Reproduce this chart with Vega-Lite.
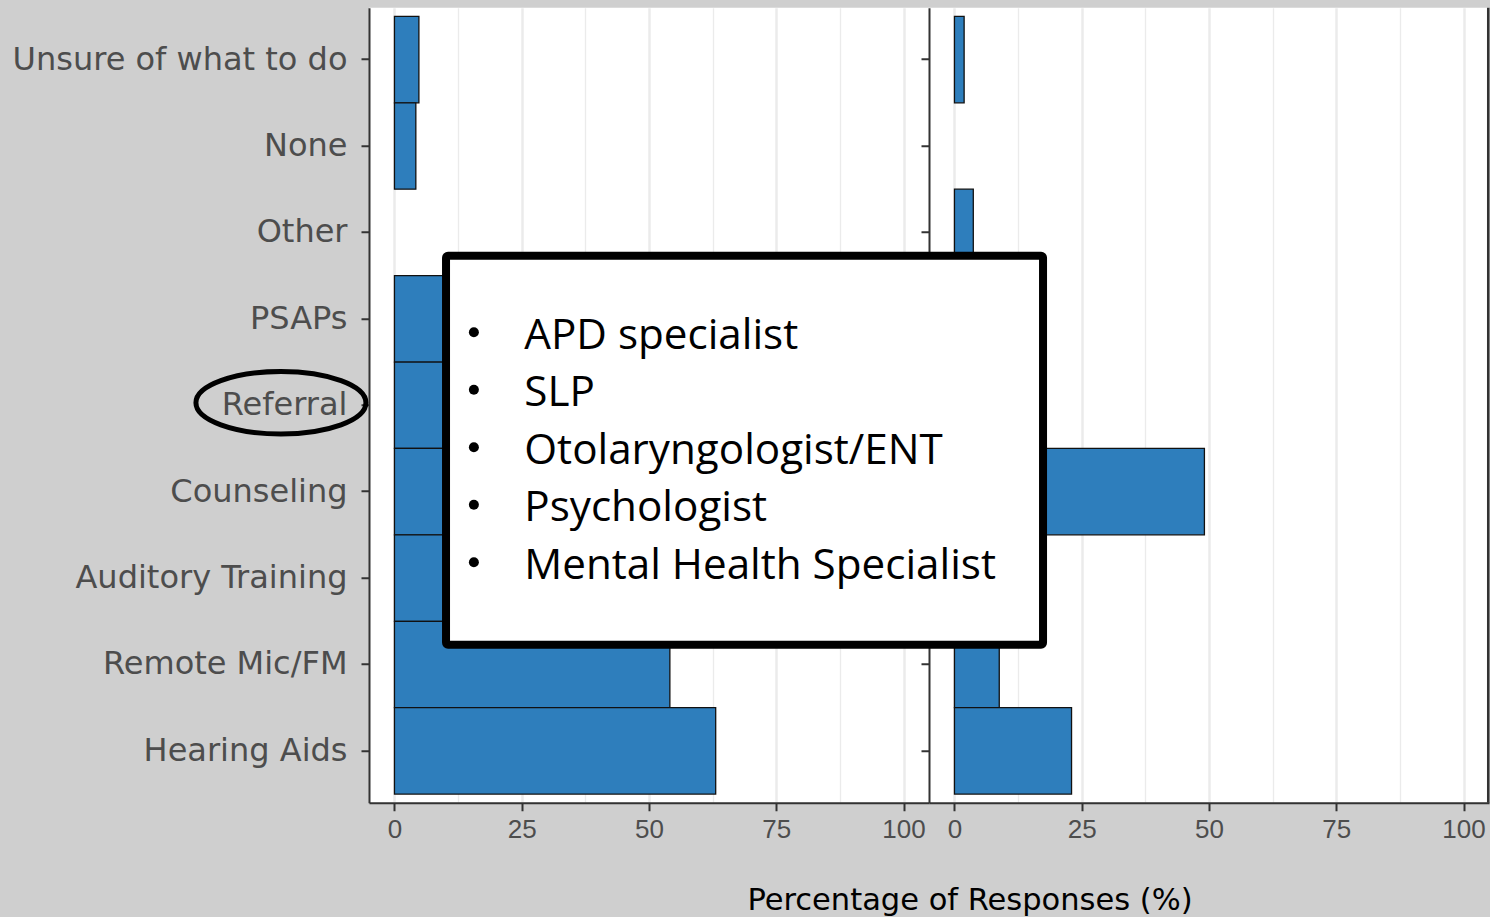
{
  "$schema": "https://vega.github.io/schema/vega-lite/v6.json",
  "background": "#CFCFCF",
  "padding": {"left": 12, "top": 5.75, "right": 0, "bottom": 0},
  "bounds": "flush",
  "spacing": 0,
  "config": {
    "view": {"fill": "white", "stroke": null},
    "axis": {
      "domainColor": "#333333",
      "domainWidth": 2,
      "tickColor": "#333333",
      "tickWidth": 2,
      "tickSize": 8,
      "labelColor": "#4D4D4D"
    }
  },
  "data": {
    "values": [
      {"group": "A", "category": "Unsure of what to do", "pct": 4.8},
      {"group": "A", "category": "None", "pct": 4.2},
      {"group": "A", "category": "Other", "pct": 0},
      {"group": "A", "category": "PSAPs", "pct": 20},
      {"group": "A", "category": "Referral", "pct": 60},
      {"group": "A", "category": "Counseling", "pct": 70},
      {"group": "A", "category": "Auditory Training", "pct": 35},
      {"group": "A", "category": "Remote Mic/FM", "pct": 54.1},
      {"group": "A", "category": "Hearing Aids", "pct": 63.1},
      {"group": "B", "category": "Unsure of what to do", "pct": 1.9},
      {"group": "B", "category": "None", "pct": 0},
      {"group": "B", "category": "Other", "pct": 3.7},
      {"group": "B", "category": "PSAPs", "pct": 8},
      {"group": "B", "category": "Referral", "pct": 12},
      {"group": "B", "category": "Counseling", "pct": 49.1},
      {"group": "B", "category": "Auditory Training", "pct": 6},
      {"group": "B", "category": "Remote Mic/FM", "pct": 8.8},
      {"group": "B", "category": "Hearing Aids", "pct": 23.0}
    ]
  },
  "hconcat": [
    {
      "width": 560,
      "height": 795,
      "layer": [
        {
          "transform": [{"filter": "datum.group === 'A'"}],
          "mark": {"type": "bar", "fill": "#2E7EBC", "stroke": "#111111", "strokeWidth": 1.3},
          "encoding": {
            "y": {
              "field": "category", "type": "nominal",
              "sort": ["Unsure of what to do", "None", "Other", "PSAPs", "Referral", "Counseling", "Auditory Training", "Remote Mic/FM", "Hearing Aids"],
              "scale": {"domain": ["Unsure of what to do", "None", "Other", "PSAPs", "Referral", "Counseling", "Auditory Training", "Remote Mic/FM", "Hearing Aids"], "paddingInner": 0, "paddingOuter": 0.1},
              "axis": {"title": null, "grid": false, "labelFont": "DejaVu Sans", "labelFontSize": 32, "labelPadding": 14, "labelLimit": 600}
            },
            "x": {
              "field": "pct", "type": "quantitative",
              "scale": {"domain": [-5, 105], "nice": false, "zero": false},
              "axis": {
                "values": [0, 12.5, 25, 37.5, 50, 62.5, 75, 87.5, 100],
                "labelExpr": "datum.value % 25 === 0 ? format(datum.value, 'd') : ''",
                "labelFlush": false, "labelOverlap": false,
                "grid": true, "gridColor": "#EBEBEB",
                "gridWidth": {"condition": {"test": "datum.value % 25 === 0", "value": 2.5}, "value": 1.3},
                "tickOpacity": {"condition": {"test": "datum.value % 25 !== 0", "value": 0}, "value": 1},
                "labelFont": "Liberation Sans", "labelFontSize": 26, "labelPadding": 6,
                "title": "Percentage of Responses (%)",
                "titleFont": "DejaVu Sans", "titleFontSize": 30.5, "titleFontWeight": "normal", "titleColor": "black",
                "titleX": 600.5, "titleY": 107, "titleAlign": "center", "titleBaseline": "alphabetic"
              }
            },
            "x2": {"datum": 0},
            "strokeOpacity": {"condition": {"test": "datum.pct <= 0", "value": 0}, "value": 1}
          }
        },
        {
          "data": {"values": [{"category": "Referral"}]},
          "mark": {"type": "point", "shape": "M -1 0 A 1 0.367 0 1 1 1 0 A 1 0.367 0 1 1 -1 0 Z", "size": 28900, "filled": false, "stroke": "black", "strokeWidth": 5, "opacity": 1, "clip": false, "yOffset": -2.5},
          "encoding": {
            "x": {"datum": -22.3, "type": "quantitative", "scale": {"domain": [-5, 105], "nice": false, "zero": false}},
            "y": {"field": "category", "type": "nominal", "scale": {"domain": ["Unsure of what to do", "None", "Other", "PSAPs", "Referral", "Counseling", "Auditory Training", "Remote Mic/FM", "Hearing Aids"], "paddingInner": 0, "paddingOuter": 0.1}}
          }
        }
      ]
    },
    {
      "width": 560,
      "height": 795,
      "layer": [
        {
          "transform": [{"filter": "datum.group === 'B'"}],
          "mark": {"type": "bar", "fill": "#2E7EBC", "stroke": "#111111", "strokeWidth": 1.3},
          "encoding": {
            "y": {
              "field": "category", "type": "nominal",
              "sort": ["Unsure of what to do", "None", "Other", "PSAPs", "Referral", "Counseling", "Auditory Training", "Remote Mic/FM", "Hearing Aids"],
              "scale": {"domain": ["Unsure of what to do", "None", "Other", "PSAPs", "Referral", "Counseling", "Auditory Training", "Remote Mic/FM", "Hearing Aids"], "paddingInner": 0, "paddingOuter": 0.1},
              "axis": {"title": null, "grid": false, "labels": false}
            },
            "x": {
              "field": "pct", "type": "quantitative",
              "scale": {"domain": [-5, 105], "nice": false, "zero": false},
              "axis": {
                "values": [0, 12.5, 25, 37.5, 50, 62.5, 75, 87.5, 100],
                "labelExpr": "datum.value % 25 === 0 ? format(datum.value, 'd') : ''",
                "labelFlush": false, "labelOverlap": false,
                "grid": true, "gridColor": "#EBEBEB",
                "gridWidth": {"condition": {"test": "datum.value % 25 === 0", "value": 2.5}, "value": 1.3},
                "tickOpacity": {"condition": {"test": "datum.value % 25 !== 0", "value": 0}, "value": 1},
                "labelFont": "Liberation Sans", "labelFontSize": 26, "labelPadding": 6,
                "title": null
              }
            },
            "x2": {"datum": 0},
            "strokeOpacity": {"condition": {"test": "datum.pct <= 0", "value": 0}, "value": 1}
          }
        },
        {
          "data": {"values": [{"edge": "right"}]},
          "mark": {"type": "rule", "color": "#333333", "strokeWidth": 2.5, "clip": false},
          "encoding": {
            "x": {"datum": 104.85, "type": "quantitative", "scale": {"domain": [-5, 105], "nice": false, "zero": false}}
          }
        },
        {
          "data": {
            "values": [
              {"item": "APD specialist", "rank": 1},
              {"item": "SLP", "rank": 2},
              {"item": "Otolaryngologist/ENT", "rank": 3},
              {"item": "Psychologist", "rank": 4},
              {"item": "Mental Health Specialist", "rank": 5}
            ]
          },
          "layer": [
            {
              "data": {"values": [{"note": "box"}]},
              "mark": {"type": "rect", "fill": "white", "stroke": "black", "strokeWidth": 8, "cornerRadius": 2, "clip": false},
              "encoding": {
                "x": {"datum": -99.87, "type": "quantitative", "scale": {"domain": [-5, 105], "nice": false, "zero": false}},
                "x2": {"datum": 17.4},
                "y": {
                  "datum": -0.617, "type": "quantitative",
                  "scale": {"domain": [-4.93, 8.896], "reverse": true, "nice": false, "zero": false},
                  "axis": null
                },
                "y2": {"datum": 6.148}
              }
            },
            {
              "mark": {"type": "point", "shape": "circle", "filled": true, "size": 100, "color": "black", "opacity": 1, "yOffset": -16.5, "clip": false},
              "encoding": {
                "x": {"datum": -94.4, "type": "quantitative", "scale": {"domain": [-5, 105], "nice": false, "zero": false}},
                "y": {"field": "rank", "type": "quantitative", "scale": {"domain": [-4.93, 8.896], "reverse": true, "nice": false, "zero": false}}
              }
            },
            {
              "mark": {"type": "text", "align": "left", "baseline": "alphabetic", "font": "Open Sans", "fontSize": 42.2, "color": "black", "clip": false},
              "encoding": {
                "x": {"datum": -84.5, "type": "quantitative", "scale": {"domain": [-5, 105], "nice": false, "zero": false}},
                "y": {"field": "rank", "type": "quantitative", "scale": {"domain": [-4.93, 8.896], "reverse": true, "nice": false, "zero": false}},
                "text": {"field": "item", "type": "nominal"}
              }
            }
          ]
        }
      ],
      "resolve": {"scale": {"y": "independent"}, "axis": {"y": "independent"}}
    }
  ]
}
